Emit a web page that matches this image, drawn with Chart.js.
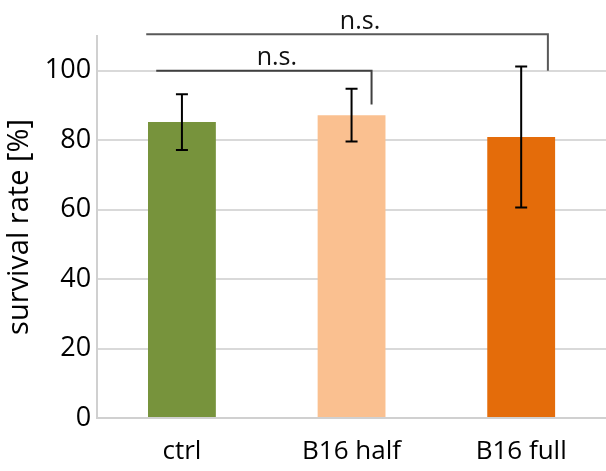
<!DOCTYPE html>
<html>
<head>
<meta charset="utf-8">
<script src="https://cdn.jsdelivr.net/npm/chart.js@4/dist/chart.umd.min.js"></script>
<style>
  html, body { margin: 0; padding: 0; background: #ffffff; }
  #wrap { width: 606px; height: 471px; }
</style>
</head>
<body>
<div id="wrap"><canvas id="c" width="606" height="471"></canvas></div>
<script>
// ---- data ----
const categories = ['ctrl', 'B16 half', 'B16 full'];
const survivalMean = [85.2, 87.2, 80.9];
const survivalSD = [8.0, 7.6, 20.3];
const barColors = ['#77933C', '#FAC090', '#E46C0A'];
const yTicks = [0, 20, 40, 60, 80, 100];
// significance brackets: from category index, to category index, bracket level, right drop end, label
const bracketFrom = [0, 0];
const bracketTo = [2, 1];
const bracketLevel = [110.5, 100];
const bracketDrop = [100, 90.3];
const bracketLabel = ['n.s.', 'n.s.'];

const FONT = "'Open Sans', 'DejaVu Sans', sans-serif";

const errorBars = {
  id: 'errorBars',
  afterDatasetsDraw(chart) {
    const ctx = chart.ctx, xs = chart.scales.x, ys = chart.scales.y;
    ctx.save();
    ctx.strokeStyle = '#000000';
    ctx.lineWidth = 2;
    survivalMean.forEach((m, i) => {
      const x = xs.getPixelForValue(i);
      const yt = ys.getPixelForValue(m + survivalSD[i]);
      const yb = ys.getPixelForValue(m - survivalSD[i]);
      ctx.beginPath();
      ctx.moveTo(x, yt); ctx.lineTo(x, yb);
      ctx.moveTo(x - 6, yt); ctx.lineTo(x + 6, yt);
      ctx.moveTo(x - 6, yb); ctx.lineTo(x + 6, yb);
      ctx.stroke();
    });
    ctx.restore();
  }
};

const brackets = {
  id: 'brackets',
  afterDraw(chart) {
    const ctx = chart.ctx, xs = chart.scales.x, ys = chart.scales.y;
    const leftOff = [-35.7, -25.7];
    const rightOff = [26.7, 20];
    const colors = ['#595959', '#404040'];
    ctx.save();
    bracketFrom.forEach((f, i) => {
      const x1 = xs.getPixelForValue(f) + leftOff[i];
      const x2 = xs.getPixelForValue(bracketTo[i]) + rightOff[i];
      const y = ys.getPixelForValue(bracketLevel[i]);
      const yd = ys.getPixelForValue(bracketDrop[i]);
      ctx.strokeStyle = colors[i];
      ctx.lineWidth = 2;
      ctx.beginPath();
      ctx.moveTo(x1, y); ctx.lineTo(x2, y); ctx.lineTo(x2, yd);
      ctx.stroke();
      ctx.fillStyle = '#111111';
      ctx.font = '25px ' + FONT;
      ctx.textAlign = 'center';
      ctx.textBaseline = 'alphabetic';
      ctx.fillText(bracketLabel[i], (x1 + x2) / 2 + 13, y - 5.5);
    });
    ctx.restore();
  }
};

new Chart(document.getElementById('c'), {
  type: 'bar',
  data: {
    labels: categories,
    datasets: [{
      data: survivalMean,
      backgroundColor: barColors,
      borderWidth: 0,
      barPercentage: 0.4,
      categoryPercentage: 1.0
    }]
  },
  options: {
    responsive: false,
    devicePixelRatio: 1,
    animation: false,
    layout: { padding: { top: 36, left: 2, right: 0, bottom: 7 } },
    plugins: { legend: { display: false }, tooltip: { enabled: false } },
    font: { family: FONT },
    scales: {
      x: {
        grid: { display: false },
        border: { color: '#d0d0d0', width: 2 },
        ticks: { color: '#000000', font: { family: FONT, size: 26 }, padding: 10, maxRotation: 0 },
        afterFit(scale) { scale.height = 46; }
      },
      y: {
        min: 0,
        max: 110,
        afterBuildTicks(scale) { scale.ticks = yTicks.map(v => ({ value: v })); },
        ticks: { color: '#000000', font: { family: FONT, size: 27 }, padding: 6 },
        grid: { color: '#d9d9d9', lineWidth: 2, drawTicks: false },
        border: { color: '#d0d0d0', width: 2 },
        title: {
          display: true,
          text: 'survival rate [%]',
          color: '#000000',
          font: { family: FONT, size: 29 },
          padding: { top: 0, bottom: 2 }
        }
      }
    }
  },
  plugins: [errorBars, brackets]
});
</script>
</body>
</html>
